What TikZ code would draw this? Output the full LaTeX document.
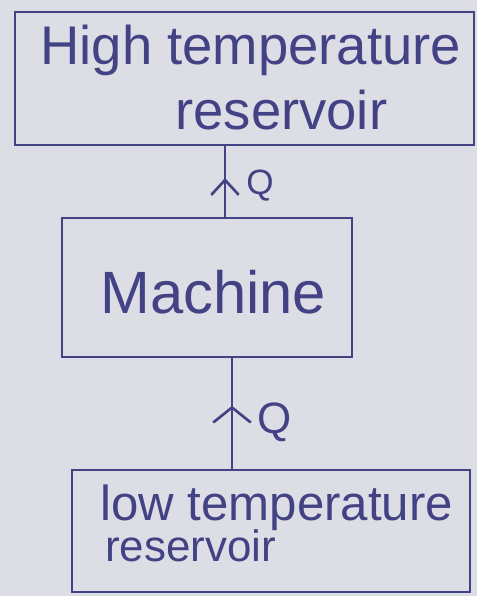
\documentclass[tikz,border=0pt]{standalone}
\usepackage{fontspec}
\setmainfont{Liberation Sans}
\usetikzlibrary{arrows.meta,decorations.markings,positioning}
\definecolor{paper}{RGB}{221,221,230}
\definecolor{pen}{RGB}{66,66,132}
\tikzset{
    tank/.style={
        draw=pen,
        rectangle,
        line width=1.5pt,
        inner sep=0pt
    },
    hand/.style={
        text=pen,
        inner sep=0pt,
        anchor=base west,
        font=\fontsize{#1}{#1}\selectfont
    },
    flow/.style 2 args={
        draw=pen,
        line width=1.5pt,
        postaction={decorate},
        decoration={markings,
            mark=at position #1 with {\arrow{Straight Barb[length=3mm,width=#2,line width=1.5pt]}}}
    }
}

\begin{document}
\begin{tikzpicture}[x={(0.02cm,0)}, y={(0,-0.02cm)}]
    % paper
    \fill[paper] (0,0) rectangle (477,596);
    \useasboundingbox (0,0) rectangle (477,596);

    % Boxes
    \node[tank, minimum width=9.18cm, minimum height=2.66cm] (high) at (244.5,78.5) {};
    \node[tank, minimum width=5.8cm, minimum height=2.78cm] (machine) at (207,287.5) {};
    \node[tank, minimum width=7.96cm, minimum height=2.44cm] (low) at (271,531) {};

    % Texts
    \node[hand=31] (hightxt) at (40,64) {High temperature};
    \node[hand=31] (highres) at (175,129) {reservoir};
    \node[hand=34] (machtxt) at (100,313) {Machine};
    \node[hand=28] (lowtxt) at (100,520) {low temperature};
    \node[hand=25] (lowres) at (105,561) {reservoir};

    % Heat flow
    \coordinate (upx) at (225,0);
    \coordinate (downx) at (232,0);
    \draw[flow={0.55}{5.5mm}] (machine.north -| upx) -- (high.south -| upx);
    \draw[flow={0.57}{7.5mm}] (low.north -| downx) -- (machine.south -| downx);

    \node[hand=20] (qup) at (246,194) {Q};
    \node[hand=25] (qdown) at (257,433) {Q};
\end{tikzpicture}
\end{document}
